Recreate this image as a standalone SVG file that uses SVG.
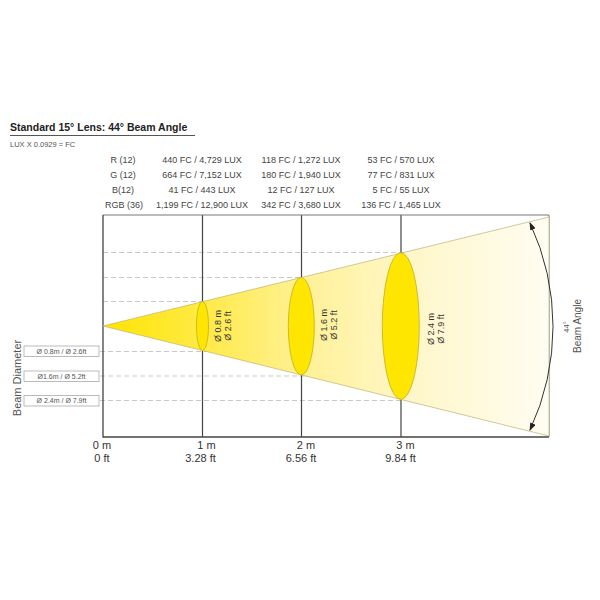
<svg xmlns="http://www.w3.org/2000/svg" width="600" height="600" viewBox="0 0 600 600">
<style>
text{font-family:"Liberation Sans",Arial,sans-serif;fill:#444}
.title{font-size:10.5px;font-weight:bold;fill:#222}
.tbl{font-size:9px;text-anchor:middle}
.ax{font-size:11px;text-anchor:middle;fill:#333}
.lbl{font-size:7px;text-anchor:middle;fill:#555}
.ell{font-size:9px;text-anchor:middle;fill:#333}
.dash{stroke:#bbb;stroke-width:0.8;stroke-dasharray:5 3;fill:none}
.vline{stroke:#444;stroke-width:1.2}
.ellipse{fill:#FFE600;stroke:#C2AE20;stroke-width:0.8}
.box{fill:#fff;stroke:#aaa;stroke-width:0.8}
</style>
<defs>
<linearGradient id="cone" x1="103" y1="0" x2="549" y2="0" gradientUnits="userSpaceOnUse">
<stop offset="0" stop-color="#FFE400"/>
<stop offset="0.22" stop-color="#FFEA45"/>
<stop offset="0.45" stop-color="#FFF196"/>
<stop offset="0.67" stop-color="#FFF6C6"/>
<stop offset="1" stop-color="#FFFDF2"/>
</linearGradient>
<marker id="arr" viewBox="0 0 8 6" refX="7" refY="3" markerWidth="8" markerHeight="6" markerUnits="userSpaceOnUse" orient="auto-start-reverse">
<path d="M0,0 L8,3 L0,6 Z" fill="#222"/>
</marker>
</defs>

<g id="title">
<text class="title" x="10" y="131">Standard 15° Lens: 44° Beam Angle</text>
<line x1="10" y1="135.5" x2="195" y2="135.5" stroke="#555" stroke-width="1"/>
<text x="10" y="146.5" style="font-size:7.5px;fill:#555">LUX X 0.0929 = FC</text>
</g>

<g id="table">
<text class="tbl" x="123" y="162.5">R (12)</text>
<text class="tbl" x="123" y="177.5">G (12)</text>
<text class="tbl" x="123" y="192.5">B(12)</text>
<text class="tbl" x="124" y="208">RGB (36)</text>
<text class="tbl" x="202" y="162.5">440 FC / 4,729 LUX</text>
<text class="tbl" x="202" y="177.5">664 FC / 7,152 LUX</text>
<text class="tbl" x="202" y="192.5">41 FC / 443 LUX</text>
<text class="tbl" x="202" y="208">1,199 FC / 12,900 LUX</text>
<text class="tbl" x="301" y="162.5">118 FC / 1,272 LUX</text>
<text class="tbl" x="301" y="177.5">180 FC / 1,940 LUX</text>
<text class="tbl" x="301" y="192.5">12 FC / 127 LUX</text>
<text class="tbl" x="301" y="208">342 FC / 3,680 LUX</text>
<text class="tbl" x="401" y="162.5">53 FC / 570 LUX</text>
<text class="tbl" x="401" y="177.5">77 FC / 831 LUX</text>
<text class="tbl" x="401" y="192.5">5 FC / 55 LUX</text>
<text class="tbl" x="401" y="208">136 FC / 1,465 LUX</text>
</g>

<g id="connectors">
<line class="dash" x1="103" y1="252.5" x2="549" y2="252.5"/>
<line class="dash" x1="103" y1="277.5" x2="549" y2="277.5"/>
<line class="dash" x1="103" y1="301.5" x2="549" y2="301.5"/>
<line class="dash" x1="100" y1="351.5" x2="549" y2="351.5"/>
<line class="dash" x1="100" y1="376" x2="549" y2="376"/>
<line class="dash" x1="100" y1="400.5" x2="549" y2="400.5"/>
<line class="vline" x1="202.5" y1="215" x2="202.5" y2="437"/>
<line class="vline" x1="301.5" y1="215" x2="301.5" y2="437"/>
<line class="vline" x1="401" y1="215" x2="401" y2="437"/>
<line x1="103" y1="215" x2="549" y2="215" stroke="#777" stroke-width="1"/>
<line x1="549" y1="215" x2="549" y2="437" stroke="#777" stroke-width="1"/>
<path d="M103,215 V437 H549" fill="none" stroke="#444" stroke-width="1.3"/>
</g>

<g id="cone">
<path d="M103,326 L549,217 L549,436 Z" fill="url(#cone)" stroke="#BDB27A" stroke-width="0.7"/>
</g>

<g id="beam-1m">
<ellipse class="ellipse" cx="202.5" cy="326" rx="6" ry="24.5"/>
<text class="ell" transform="translate(220.5,326) rotate(-90)">Ø 0.8 m</text>
<text class="ell" transform="translate(231,326) rotate(-90)">Ø 2.6 ft</text>
</g>
<g id="beam-2m">
<ellipse class="ellipse" cx="301.3" cy="326.2" rx="13" ry="48.7"/>
<text class="ell" transform="translate(326.5,325) rotate(-90)">Ø 1.6 m</text>
<text class="ell" transform="translate(336.5,325) rotate(-90)">Ø 5.2 ft</text>
</g>
<g id="beam-3m">
<ellipse class="ellipse" cx="400.8" cy="326" rx="18.5" ry="73.3"/>
<text class="ell" transform="translate(434,329) rotate(-90)">Ø 2.4 m</text>
<text class="ell" transform="translate(444,329) rotate(-90)">Ø 7.9 ft</text>
</g>

<g id="beam-angle">
<path d="M530,223 A244,244 0 0 1 530,430" fill="none" stroke="#333" stroke-width="1" marker-start="url(#arr)" marker-end="url(#arr)"/>
<text transform="translate(568.5,327) rotate(-90)" style="font-size:7.5px;text-anchor:middle;fill:#555">44°</text>
<text transform="translate(580.5,326) rotate(-90)" style="font-size:10px;text-anchor:middle;fill:#555">Beam Angle</text>
</g>

<g id="beam-diameter">
<text transform="translate(20.5,378) rotate(-90)" style="font-size:11px;text-anchor:middle;fill:#555">Beam Diameter</text>
<rect class="box" x="24" y="346" width="75" height="10.5"/>
<text class="lbl" x="61.5" y="353.8">Ø 0.8m / Ø 2.6ft</text>
<rect class="box" x="24" y="371" width="75" height="10.5"/>
<text class="lbl" x="61.5" y="378.8">Ø1.6m / Ø 5.2ft</text>
<rect class="box" x="24" y="395.5" width="75" height="10.5"/>
<text class="lbl" x="61.5" y="403.3">Ø 2.4m / Ø 7.9ft</text>
</g>

<g id="axis">
<text class="ax" x="102" y="448.5">0 m</text>
<text class="ax" x="102" y="462">0 ft</text>
<text class="ax" x="206.5" y="448.5">1 m</text>
<text class="ax" x="200.5" y="462">3.28 ft</text>
<text class="ax" x="306" y="448.5">2 m</text>
<text class="ax" x="301" y="462">6.56 ft</text>
<text class="ax" x="405.5" y="448.5">3 m</text>
<text class="ax" x="400.5" y="462">9.84 ft</text>
</g>
</svg>
